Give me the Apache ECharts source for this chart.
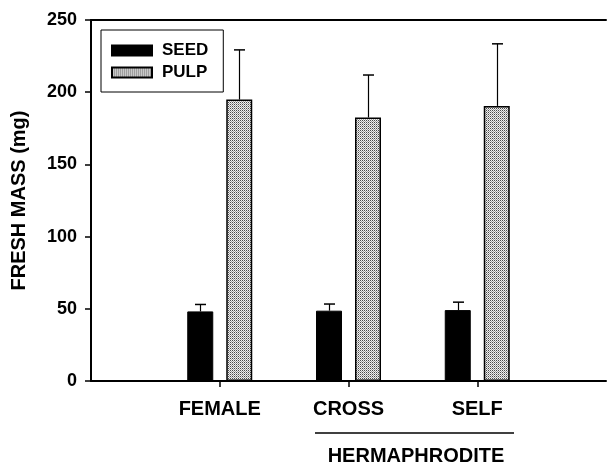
<!DOCTYPE html>
<html>
<head>
<meta charset="utf-8">
<script src="https://cdn.jsdelivr.net/npm/echarts@6/dist/echarts.min.js"></script>
<style>
html,body{margin:0;padding:0;background:#fff;}
#chart{width:609px;height:469px;}
</style>
</head>
<body>
<div id="chart"></div>
<script>
// ---- data ----
const categories = ['', 'FEMALE', 'CROSS', 'SELF', ''];
const seedValues = [null, 48.2, 48.7, 49.1, null];
const seedErrTop = [null, 53.0, 53.3, 54.6, null];
const pulpValues = [null, 194.9, 182.5, 190.5, null];
const pulpErrTop = [null, 229.3, 211.9, 233.5, null];
const yTicks = { min: 0, max: 250, interval: 50 };
const groupLabel = 'HERMAPHRODITE';
const yTitle = 'FRESH MASS (mg)';

// ---- pattern for pulp ----
const pc = document.createElement('canvas');
pc.width = 2; pc.height = 2;
const pctx = pc.getContext('2d');
pctx.fillStyle = '#f0f0f0'; pctx.fillRect(0, 0, 2, 2);
pctx.fillStyle = '#4a4a4a'; pctx.fillRect(0, 0, 1, 1);
pctx.fillStyle = '#a0a0a0'; pctx.fillRect(1, 1, 1, 1);
const pulpPattern = { image: pc, repeat: 'repeat' };

const BAR_W = 26;
const HALF_OFF = 19.5;

function errData(vals, tops) {
  const out = [];
  vals.forEach((v, i) => { if (v != null) out.push([i, v, tops[i]]); });
  return out;
}
function errRender(offset) {
  return function (params, api) {
    const x = api.value(0), v = api.value(1), t = api.value(2);
    const p1 = api.coord([x, v]);
    const p2 = api.coord([x, t]);
    const cx = Math.round(p1[0] + offset) + 0.5;
    return {
      type: 'group',
      children: [
        { type: 'line', shape: { x1: cx, y1: p1[1], x2: cx, y2: p2[1] }, style: { stroke: '#000', lineWidth: 1.2 } },
        { type: 'line', shape: { x1: cx - 5.5, y1: p2[1], x2: cx + 5.5, y2: p2[1] }, style: { stroke: '#000', lineWidth: 1.5 } }
      ]
    };
  };
}

const chart = echarts.init(document.getElementById('chart'), null, { renderer: 'canvas' });
const FONT = "'Liberation Sans', Arial, Helvetica, sans-serif";
chart.setOption({
  animation: false,
  backgroundColor: '#fff',
  textStyle: { fontFamily: FONT, color: '#000' },
  grid: { left: 91, width: 520, top: 20, bottom: 88 },
  legend: {
    data: ['SEED', 'PULP'],
    orient: 'vertical',
    left: 101, top: 30,
    itemWidth: 40, itemHeight: 10, itemGap: 5,
    borderColor: '#000', borderWidth: 1,
    padding: [12, 15, 11, 10],
    selectedMode: false,
    icon: 'rect',
    textStyle: { fontFamily: FONT, fontSize: 17, fontWeight: 'bold', color: '#000', padding: [0, 0, 0, 5] }
  },
  xAxis: [{
    type: 'category',
    data: categories,
    boundaryGap: false,
    axisLine: { lineStyle: { color: '#000', width: 2 } },
    axisTick: { show: true, length: 6, interval: function (i) { return i > 0 && i < categories.length - 1; }, lineStyle: { color: '#000', width: 1.5 } },
    axisLabel: { interval: 0, margin: 18, fontFamily: FONT, fontSize: 20, fontWeight: 'bold', color: '#000' },
    splitLine: { show: false }
  }, {
    type: 'category',
    data: categories,
    position: 'top',
    boundaryGap: false,
    axisLine: { show: true, lineStyle: { color: '#000', width: 2 } },
    axisTick: { show: false },
    axisLabel: { show: false },
    splitLine: { show: false }
  }],
  yAxis: {
    type: 'value',
    min: yTicks.min, max: yTicks.max, interval: yTicks.interval,
    name: yTitle,
    nameLocation: 'middle',
    nameGap: 62,
    nameTextStyle: { fontFamily: FONT, fontSize: 20, fontWeight: 'bold', color: '#000' },
    axisLine: { show: true, lineStyle: { color: '#000', width: 2 } },
    axisTick: { show: true, length: 6, lineStyle: { color: '#000', width: 1.5 } },
    axisLabel: { margin: 14, fontFamily: FONT, fontSize: 18, fontWeight: 'bold', color: '#000' },
    splitLine: { show: false }
  },
  series: [
    {
      name: 'SEED', type: 'bar', data: seedValues, barWidth: BAR_W, barGap: '50%',
      itemStyle: { color: '#000', borderColor: '#000', borderWidth: 1 }
    },
    {
      name: 'PULP', type: 'bar', data: pulpValues, barWidth: BAR_W, barGap: '50%',
      itemStyle: { color: pulpPattern, borderColor: '#000', borderWidth: 1.5 }
    },
    { name: 'seedErr', type: 'custom', data: errData(seedValues, seedErrTop), renderItem: errRender(-HALF_OFF), z: 5, silent: true },
    { name: 'pulpErr', type: 'custom', data: errData(pulpValues, pulpErrTop), renderItem: errRender(HALF_OFF), z: 5, silent: true }
  ],
  graphic: [
    { type: 'line', shape: { x1: 315, y1: 433, x2: 514, y2: 433 }, style: { stroke: '#000', lineWidth: 1.5 } },
    { type: 'text', x: 416, y: 456, style: { text: groupLabel, font: "bold 20px " + FONT, fill: '#000', align: 'center', verticalAlign: 'middle' } }
  ]
});
</script>
</body>
</html>
